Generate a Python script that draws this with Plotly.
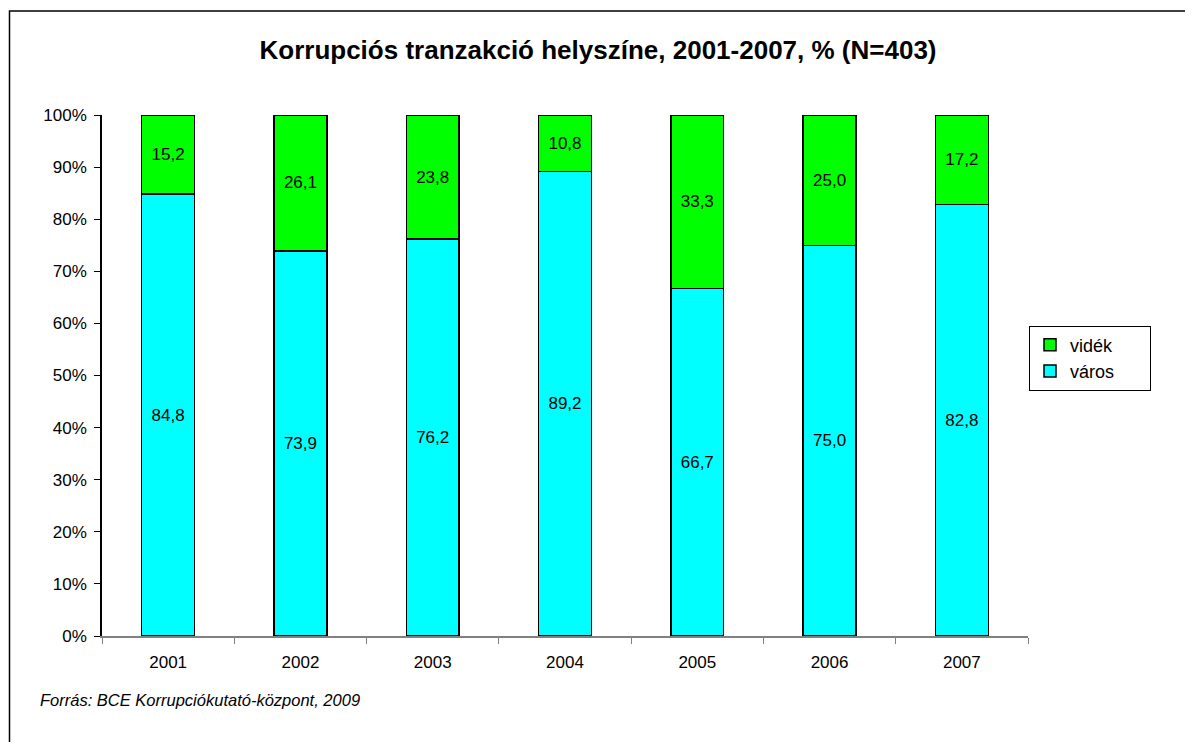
import plotly.graph_objects as go

years = ["2001", "2002", "2003", "2004", "2005", "2006", "2007"]
varos = [84.8, 73.9, 76.2, 89.2, 66.7, 75.0, 82.8]
videk = [15.2, 26.1, 23.8, 10.8, 33.3, 25.0, 17.2]

def fmt(v):
    return f"{v:.1f}".replace(".", ",")

FONT = "Liberation Sans, Arial, sans-serif"
OFF = 8  # default page body margin

# plot area in page pixels
PL, PR, PT, PB = 102, 1028, 115, 636
PW, PH = PR - PL, PB - PT

fig = go.Figure()
fig.add_trace(go.Bar(
    x=years, y=varos, name="város\u00a0\u00a0\u00a0\u00a0\u00a0\u00a0",
    marker=dict(color="#00FFFF", line=dict(color="black", width=1.5)),
    text=[fmt(v) for v in varos], textposition="inside", insidetextanchor="middle",
    textangle=0, constraintext="none",
    textfont=dict(family=FONT, size=17, color="black"),
    width=0.4,
))
fig.add_trace(go.Bar(
    x=years, y=videk, name="vidék",
    marker=dict(color="#00FF00", line=dict(color="black", width=1.5)),
    text=[fmt(v) for v in videk], textposition="inside", insidetextanchor="middle",
    textangle=0, constraintext="none",
    textfont=dict(family=FONT, size=17, color="black"),
    width=0.4,
))

W, H = 1193 - OFF, 742 - OFF
fig.update_layout(
    width=W, height=H, autosize=False,
    barmode="stack",
    paper_bgcolor="white", plot_bgcolor="white",
    margin=dict(l=PL - OFF, r=W - (PR - OFF), t=PT - OFF, b=H - (PB - OFF)),
    font=dict(family=FONT, size=17, color="black"),
    title=dict(
        text="<b>Korrupciós tranzakció helyszíne, 2001-2007, % (N=403)</b>",
        font=dict(family=FONT, size=26, color="black"),
        x=(598 - OFF) / W, xanchor="center", xref="container",
        y=1 - (50 - OFF) / H, yanchor="middle", yref="container",
    ),
    xaxis=dict(
        showline=True, linecolor="#808080", linewidth=1.5,
        ticks="outside", tickson="boundaries", ticklen=6, tickcolor="#808080",
        tickfont=dict(family=FONT, size=17, color="black"),
        ticklabelstandoff=10,
        showgrid=False,
    ),
    yaxis=dict(
        range=[0, 100], dtick=10, ticksuffix="%",
        showline=True, linecolor="black", linewidth=1.5,
        ticks="outside", ticklen=6, tickcolor="black",
        tickfont=dict(family=FONT, size=17, color="black"),
        ticklabelstandoff=4,
        showgrid=False, zeroline=False,
    ),
    legend=dict(
        x=(1029 - PL) / PW, xanchor="left",
        y=(PB - 358) / PH, yanchor="middle",
        traceorder="reversed",
        bordercolor="black", borderwidth=1,
        font=dict(family=FONT, size=18, color="black"),
        itemwidth=30, tracegroupgap=0,
    ),
    showlegend=True,
)

fig.add_annotation(
    text="<i>Forrás: BCE Korrupciókutató-központ, 2009</i>",
    xref="paper", yref="paper",
    x=(38 - PL) / PW, xanchor="left",
    y=(PB - 700) / PH, yanchor="middle",
    showarrow=False,
    font=dict(family=FONT, size=16.5, color="black"),
)

fig.add_shape(
    type="rect", xref="paper", yref="paper",
    x0=(9.5 - PL) / PW, x1=(1300 - PL) / PW,
    y0=(PB - 900) / PH, y1=(PB - 11) / PH,
    line=dict(color="black", width=1.5),
    fillcolor="rgba(0,0,0,0)", layer="below",
)

fig.write_html("out.html")
